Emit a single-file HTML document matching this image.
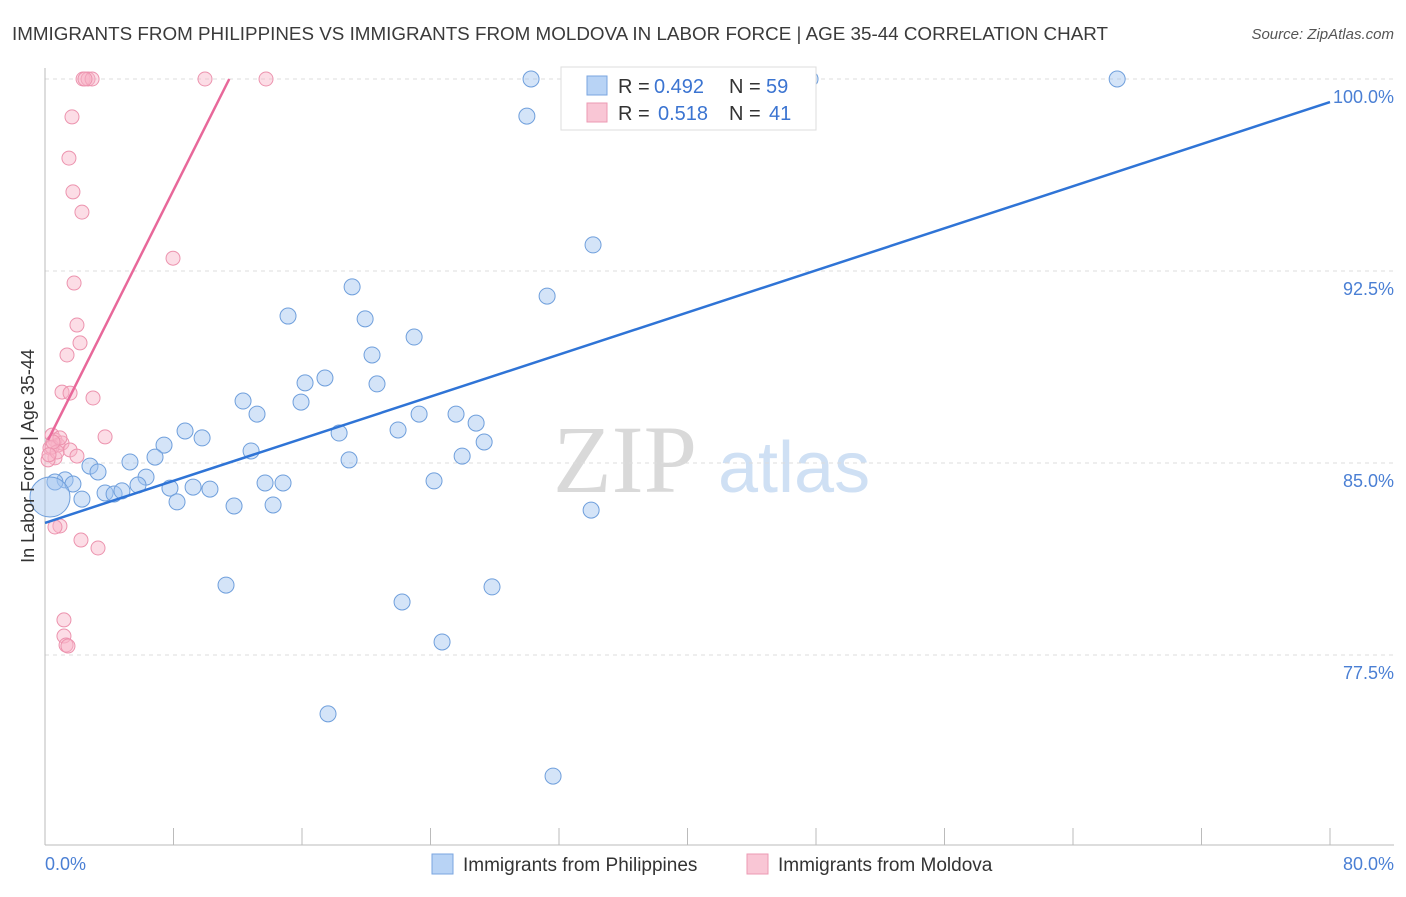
<!DOCTYPE html>
<html><head><meta charset="utf-8"><style>
body{margin:0;background:#fff;font-family:"Liberation Sans",sans-serif;}
svg text{font-family:"Liberation Sans",sans-serif;}
</style></head><body>
<svg id="chart" width="1406" height="892" viewBox="0 0 1406 892" xmlns="http://www.w3.org/2000/svg">
<text x="12" y="40" font-size="18" fill="#3a3a3a" textLength="1096" lengthAdjust="spacingAndGlyphs">IMMIGRANTS FROM PHILIPPINES VS IMMIGRANTS FROM MOLDOVA IN LABOR FORCE | AGE 35-44 CORRELATION CHART</text>
<text x="1394" y="39" font-size="15" fill="#555" text-anchor="end" font-style="italic">Source: ZipAtlas.com</text>
<g>
<text x="553" y="492" font-size="96" fill="#d9d9d9" style="font-family:'Liberation Serif',serif">ZIP</text>
<text x="718" y="492" font-size="72" fill="#cfe0f4">atlas</text>
</g>
<g id="grid"></g>
<g id="axes"></g>
<g id="marks"></g>
<text transform="translate(34,456) rotate(-90)" font-size="18" fill="#333" text-anchor="middle">In Labor Force | Age 35-44</text>
<text x="45" y="870" font-size="18" fill="#4a7fd4">0.0%</text>
<text x="1394" y="870" font-size="18" fill="#4a7fd4" text-anchor="end">80.0%</text>
<g>
<rect x="561" y="67" width="255" height="63" fill="#fff" stroke="#ddd"/>
<rect x="587" y="76" width="20" height="19" fill="#b8d3f5" stroke="#7aa6e0"/>
<rect x="587" y="103" width="20" height="19" fill="#f9c6d5" stroke="#ec9ab3"/>
<text x="618" y="93" font-size="20" fill="#333">R =</text>
<text x="654" y="93" font-size="20" fill="#3b74d1">0.492</text>
<text x="729" y="93" font-size="20" fill="#333">N =</text>
<text x="766" y="93" font-size="20" fill="#3b74d1">59</text>
<text x="618" y="120" font-size="20" fill="#333">R =</text>
<text x="658" y="120" font-size="20" fill="#3b74d1">0.518</text>
<text x="729" y="120" font-size="20" fill="#333">N =</text>
<text x="769" y="120" font-size="20" fill="#3b74d1">41</text>
</g>
<g>
<rect x="432" y="854" width="21" height="20" fill="#b8d3f5" stroke="#7aa6e0"/>
<text x="463" y="871" font-size="19" fill="#333">Immigrants from Philippines</text>
<rect x="747" y="854" width="21" height="20" fill="#f9c6d5" stroke="#ec9ab3"/>
<text x="778" y="871" font-size="19" fill="#333">Immigrants from Moldova</text>
</g>
</svg>
<script>
const yTicks=[77.5,85,92.5,100];
const yTickLabels=["77.5%","85.0%","92.5%","100.0%"];
const xTicks=[8,16,24,32,40,48,56,64,72,80];
const blueX=[30.26,47.63,66.75,30.0,34.12,31.26,19.12,15.13,19.93,22.98,20.36,17.43,16.19,20.67,15.94,12.33,13.2,23.29,25.59,26.84,18.31,21.98,8.72,9.78,7.41,6.85,12.83,27.34,25.97,18.93,5.29,2.80,3.30,6.29,5.79,7.78,9.22,10.27,13.70,14.82,24.22,1.25,1.74,3.74,4.30,4.79,2.30,8.22,11.77,14.2,34.0,11.27,22.23,27.83,24.72,17.62,31.63,0.62,0.31];
const blueY=[100,100,100,98.55,93.52,91.52,91.88,90.74,90.63,89.92,89.22,88.32,88.13,88.09,87.38,87.42,86.91,86.91,86.91,86.56,86.17,86.29,86.25,85.98,85.7,85.23,85.47,85.82,85.27,85.12,85.04,84.88,84.65,84.45,84.14,84.02,84.06,83.98,84.22,84.22,84.3,84.34,84.18,83.83,83.79,83.91,83.59,83.48,83.32,83.36,83.16,80.23,79.57,80.16,78.01,75.2,72.77,84.26,83.67];
const blueSize=[8,8,8,8,8,8,8,8,8,8,8,8,8,8,8,8,8,8,8,8,8,8,8,8,8,8,8,8,8,8,8,8,8,8,8,8,8,8,8,8,8,8,8,8,8,8,8,8,8,8,8,8,8,8,8,8,8,8,20];
const pinkX=[2.37,2.68,2.93,9.96,13.76,2.49,1.68,1.49,1.74,2.30,7.97,1.81,1.99,2.18,1.37,1.06,1.56,2.99,3.74,0.44,0.62,0.81,1.06,0.31,1.56,1.99,0.62,0.19,0.93,0.62,2.24,3.30,1.18,1.18,1.31,1.43,0.44,0.75,0.93,0.5,0.25];
const pinkY=[100,100,100,100,100,100,98.52,96.91,95.59,94.8,93.0,92.03,90.39,89.69,89.22,87.77,87.73,87.54,86.02,86.09,85.9,85.7,85.78,85.59,85.51,85.27,85.2,85.12,82.54,82.5,81.99,81.68,78.87,78.24,77.89,77.85,85.62,85.43,85.98,85.82,85.32];
const blueTrend=[82.66,0.2055];
const pinkTrend=[85.66,1.25];
const NS="http://www.w3.org/2000/svg";
const X=v=>45+v*(1285/80);
const Y=v=>79+(100-v)*25.6;
function mk(t,a,p){const e=document.createElementNS(NS,t);for(const k in a)e.setAttribute(k,a[k]);p.appendChild(e);return e;}
const grid=document.getElementById('grid'),axes=document.getElementById('axes'),marks=document.getElementById('marks');
yTicks.forEach((v,i)=>{
 const l=mk('line',{x1:45,x2:1394,y1:Y(v),y2:Y(v),stroke:'#ddd','stroke-dasharray':'4,4'},grid);
 
 
 const t=mk('text',{x:1394,y:Y(v)+24,'font-size':18,fill:'#4a7fd4','text-anchor':'end'},axes);
 t.textContent=yTickLabels[i];
 
 
});
const xa=mk('line',{x1:45,x2:1394,y1:845,y2:845,stroke:'#bbb'},axes);


const ya=mk('line',{x1:45,x2:45,y1:68,y2:845,stroke:'#bbb'},axes);


xTicks.forEach(v=>{
 const t=mk('line',{x1:X(v),x2:X(v),y1:828,y2:845,stroke:'#bbb'},axes);
 
 
});
blueX.forEach((x,i)=>{
 const c=mk('circle',{cx:X(x),cy:Y(blueY[i]),r:blueSize[i],fill:'rgba(160,196,240,0.45)',stroke:'#6f9fdc','stroke-width':1},marks);
 
 
});
pinkX.forEach((x,i)=>{
 const c=mk('circle',{cx:X(x),cy:Y(pinkY[i]),r:7,fill:'rgba(248,180,200,0.45)',stroke:'#ec93ae','stroke-width':1},marks);
 
 
});
const bl=mk('line',{x1:X(0),y1:Y(blueTrend[0]),x2:X(80),y2:Y(blueTrend[0]+80*blueTrend[1]),stroke:'#2f74d6','stroke-width':2.5},marks);


const pEnd=(100-pinkTrend[0])/pinkTrend[1];
const pl=mk('line',{x1:X(0.19),y1:Y(pinkTrend[0]+0.19*pinkTrend[1]),x2:X(pEnd),y2:Y(100),stroke:'#e8689a','stroke-width':2.5},marks);


</script>
</body></html>
